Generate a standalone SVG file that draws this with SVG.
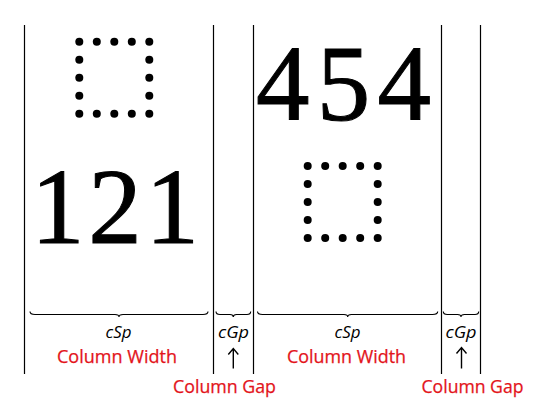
<svg xmlns="http://www.w3.org/2000/svg" width="534" height="414" viewBox="0 0 534 414">
<style>
.vl{stroke:#000;stroke-width:1.2;fill:none}
.br{stroke:#000;stroke-width:1.1;fill:none}
.big{font-family:"Liberation Serif","Times New Roman",serif;font-size:107px;fill:#000;stroke:#000;stroke-width:1}
.it{font-family:"Open Sans","Liberation Sans",sans-serif;font-style:italic;font-size:17px;fill:#000;text-anchor:middle}
.red{font-family:"Open Sans","Liberation Sans",sans-serif;font-size:17.5px;fill:#e3141b;stroke:#e3141b;stroke-width:0.25}
.ar{stroke:#000;stroke-width:1.4;fill:none}
</style>
<defs>
<g id="dots">
<circle cx="0" cy="0" r="4"/><circle cx="17.5" cy="0" r="4"/><circle cx="35" cy="0" r="4"/><circle cx="52.5" cy="0" r="4"/><circle cx="70" cy="0" r="4"/>
<circle cx="0" cy="18" r="4"/><circle cx="70" cy="18" r="4"/>
<circle cx="0" cy="36" r="4"/><circle cx="70" cy="36" r="4"/>
<circle cx="0" cy="54" r="4"/><circle cx="70" cy="54" r="4"/>
<circle cx="0" cy="72" r="4"/><circle cx="17.5" cy="72" r="4"/><circle cx="35" cy="72" r="4"/><circle cx="52.5" cy="72" r="4"/><circle cx="70" cy="72" r="4"/>
</g>
</defs>
<g id="columns">
<line class="vl" x1="24.5" y1="25" x2="24.5" y2="374"/>
<line class="vl" x1="213.5" y1="25" x2="213.5" y2="374"/>
<line class="vl" x1="253.5" y1="25" x2="253.5" y2="374"/>
<line class="vl" x1="441.5" y1="25" x2="441.5" y2="374"/>
<line class="vl" x1="480.5" y1="25" x2="480.5" y2="374"/>
</g>
<g id="col1">
<use href="#dots" x="79.3" y="41.8"/>
<text class="big" x="31" y="243" textLength="168" lengthAdjust="spacing">121</text>
</g>
<g id="col2">
<text class="big" x="256" y="119.5" textLength="175" lengthAdjust="spacing">454</text>
<use href="#dots" x="307.7" y="166"/>
</g>
<g id="braces">
<path class="br" d="M30,311.5 Q30,314.5 35,314.5 L115,314.5 Q119,314.5 119,317 Q119,314.5 123,314.5 L203,314.5 Q208,314.5 208,311.5"/>
<path class="br" d="M216,311.5 Q216,314.5 220,314.5 L230,314.5 Q233.3,314.5 233.3,317 Q233.3,314.5 236.6,314.5 L247,314.5 Q250.7,314.5 250.7,311.5"/>
<path class="br" d="M257.5,311.5 Q257.5,314.5 262.5,314.5 L344,314.5 Q347.7,314.5 347.7,317 Q347.7,314.5 351.4,314.5 L432.5,314.5 Q437.7,314.5 437.7,311.5"/>
<path class="br" d="M443.3,311.5 Q443.3,314.5 447.3,314.5 L457.5,314.5 Q461,314.5 461,317 Q461,314.5 464.5,314.5 L475,314.5 Q478.7,314.5 478.7,311.5"/>
</g>
<g id="labels">
<text class="it" x="118.5" y="338" textLength="26" lengthAdjust="spacingAndGlyphs">cSp</text>
<text class="it" x="233.5" y="338" textLength="31" lengthAdjust="spacingAndGlyphs">cGp</text>
<text class="it" x="347.5" y="338" textLength="26" lengthAdjust="spacingAndGlyphs">cSp</text>
<text class="it" x="461" y="338" textLength="31" lengthAdjust="spacingAndGlyphs">cGp</text>
<text class="red" x="57" y="362.5" textLength="120" lengthAdjust="spacingAndGlyphs">Column Width</text>
<text class="red" x="287" y="362.5" textLength="119" lengthAdjust="spacingAndGlyphs">Column Width</text>
<text class="red" x="173" y="393" textLength="103" lengthAdjust="spacingAndGlyphs">Column Gap</text>
<text class="red" x="421.5" y="393" textLength="102" lengthAdjust="spacingAndGlyphs">Column Gap</text>
</g>
<g id="arrows">
<path class="ar" d="M233.3,368.5 V348.5 M228.3,354.5 L233.3,348.5 L238.3,354.5"/>
<path class="ar" d="M461.5,368.5 V347.5 M456.5,353.5 L461.5,347.5 L466.5,353.5"/>
</g>
</svg>
